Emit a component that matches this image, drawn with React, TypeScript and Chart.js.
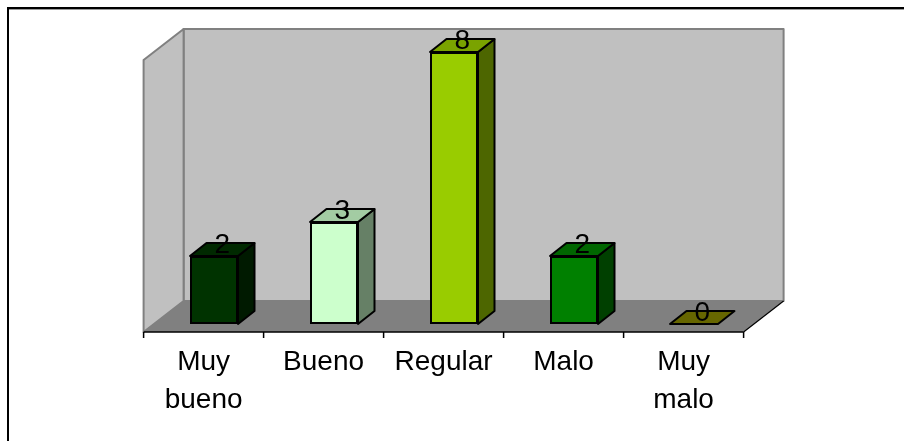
import { useEffect, useRef } from "react";
import { Chart, registerables } from "chart.js";

Chart.register(...registerables);

// Survey answers and how many times each was given
const categories: (string | string[])[] = [["Muy", "bueno"], "Bueno", "Regular", ["Malo"], ["Muy", "malo"]];
const counts = [2, 3, 8, 2, 0];
const barColors = ["#003300", "#CCFFCC", "#99CC00", "#008000", "#808000"];
const axisMax = 8;

// Pseudo-3D geometry (pixels)
const FLOOR_DX = 40;
const FLOOR_DY = 31;
const FRONT_FRACTION = 0.26; // bars stand this far back on the floor
const BAR_DX = 16.5;
const BAR_DY = 13;
const FONT = "'Liberation Sans', Arial, sans-serif";

function shade(hex: string, k: number): string {
  const n = parseInt(hex.slice(1), 16);
  const r = Math.round(((n >> 16) & 255) * k);
  const g = Math.round(((n >> 8) & 255) * k);
  const b = Math.round((n & 255) * k);
  return `rgb(${r},${g},${b})`;
}

function poly(ctx: CanvasRenderingContext2D, pts: number[][], fill: string, stroke: string | null, lw = 2) {
  ctx.beginPath();
  ctx.moveTo(pts[0][0], pts[0][1]);
  for (let i = 1; i < pts.length; i++) ctx.lineTo(pts[i][0], pts[i][1]);
  ctx.closePath();
  ctx.fillStyle = fill;
  ctx.fill();
  if (stroke) {
    ctx.lineWidth = lw;
    ctx.strokeStyle = stroke;
    ctx.lineJoin = "round";
    ctx.stroke();
  }
}

const box3d = {
  id: "box3d",
  beforeDraw(chart: any) {
    const { ctx, width, height } = chart;
    ctx.save();
    ctx.fillStyle = "#ffffff";
    ctx.fillRect(0, 0, width, height);
    // outer frame
    ctx.fillStyle = "#000000";
    ctx.fillRect(7, 7, width - 7, 2);
    ctx.fillRect(7, 7, 2, height - 7);
    ctx.fillStyle = "#9a9a9a";
    ctx.fillRect(9, 9, width - 9, 1);
    ctx.restore();
  },
  beforeDatasetsDraw(chart: any) {
    const { ctx, chartArea, scales } = chart;
    const ys = scales.y;
    const fx = -FLOOR_DX * FRONT_FRACTION;
    const fy = FLOOR_DY * FRONT_FRACTION;
    const left = chartArea.left + fx;
    const right = chartArea.right + fx;
    const base = ys.getPixelForValue(0) + fy;
    const top = ys.getPixelForValue(axisMax) + fy;
    const bl = left + FLOOR_DX;
    const br = right + FLOOR_DX;
    const bb = base - FLOOR_DY;
    const bt = top - FLOOR_DY;
    ctx.save();
    // back wall
    poly(ctx, [[bl, bt], [br, bt], [br, bb], [bl, bb]], "#C0C0C0", "#808080", 2);
    // side wall
    poly(ctx, [[left, base], [left, top], [bl, bt], [bl, bb]], "#C0C0C0", "#808080", 2);
    // floor
    poly(ctx, [[left, base], [right, base], [br, bb], [bl, bb]], "#808080", null);
    ctx.strokeStyle = "#000000";
    ctx.lineWidth = 1.2;
    ctx.beginPath();
    ctx.moveTo(right, base);
    ctx.lineTo(br, bb);
    ctx.stroke();
    // category axis with tick marks between categories
    ctx.lineWidth = 1.5;
    ctx.beginPath();
    ctx.moveTo(left, base);
    ctx.lineTo(right, base);
    const n = categories.length;
    for (let i = 0; i <= n; i++) {
      const x = left + ((right - left) * i) / n;
      ctx.moveTo(x, base);
      ctx.lineTo(x, base + 6);
    }
    ctx.stroke();
    ctx.restore();
  },
  afterDatasetsDraw(chart: any) {
    const { ctx } = chart;
    const meta = chart.getDatasetMeta(0);
    ctx.save();
    meta.data.forEach((el: any, i: number) => {
      const { x, y, base, width } = el.getProps(["x", "y", "base", "width"], true);
      const x0 = x - width / 2;
      const x1 = x + width / 2;
      const col = barColors[i];
      if (base - y > 0.5) {
        poly(ctx, [[x1, y], [x1 + BAR_DX, y - BAR_DY], [x1 + BAR_DX, base - BAR_DY], [x1, base]], shade(col, 0.5), "#000000", 2);
      }
      poly(ctx, [[x0, y], [x1, y], [x1 + BAR_DX, y - BAR_DY], [x0 + BAR_DX, y - BAR_DY]], shade(col, 0.8), "#000000", 2);
    });
    // value labels on the bar tops
    ctx.fillStyle = "#000000";
    ctx.font = `28px ${FONT}`;
    ctx.textAlign = "center";
    ctx.textBaseline = "alphabetic";
    meta.data.forEach((el: any, i: number) => {
      const { x, y } = el.getProps(["x", "y"], true);
      ctx.fillText(String(counts[i]), x + BAR_DX / 2, y - BAR_DY / 2 + 3);
    });
    ctx.restore();
  },
};

export default function App() {
  const ref = useRef<HTMLCanvasElement | null>(null);
  useEffect(() => {
    if (!ref.current) return;
    const chart = new Chart(ref.current, {
      type: "bar",
      data: {
        labels: categories,
        datasets: [
          {
            data: counts,
            backgroundColor: barColors,
            borderColor: "#000000",
            borderWidth: 2,
            borderSkipped: false,
            categoryPercentage: 1,
            barPercentage: 0.4,
          },
        ],
      },
      options: {
        responsive: false,
        animation: false,
        devicePixelRatio: 1,
        layout: { padding: { left: 154, right: 150, top: 52, bottom: 0 } },
        plugins: { legend: { display: false }, tooltip: { enabled: false } },
        scales: {
          x: {
            grid: { display: false, drawTicks: false },
            border: { display: false },
            ticks: {
              color: "#000000",
              font: { family: FONT, size: 28, lineHeight: 1.36 },
              padding: 19,
              labelOffset: -FLOOR_DX * FRONT_FRACTION,
              maxRotation: 0,
              autoSkip: false,
            },
            afterFit: (scale: any) => {
              scale.height = 117;
            },
          },
          y: { display: false, min: 0, max: axisMax },
        },
      },
      plugins: [box3d],
    });
    return () => chart.destroy();
  }, []);
  return (
    <div style={{ position: "fixed", left: 0, top: 0, width: 904, height: 441 }}>
      <canvas ref={ref} width={904} height={441} />
    </div>
  );
}
